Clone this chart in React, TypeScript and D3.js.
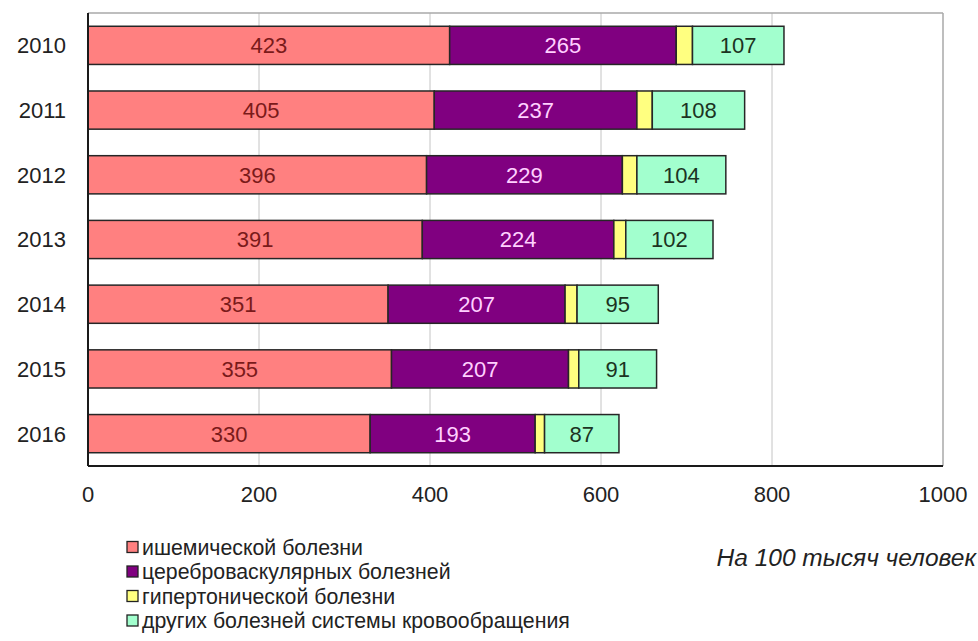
import React from "react";
import * as d3 from "d3";

// Death rates from circulatory diseases, per 100 000 people
const years = ["2010", "2011", "2012", "2013", "2014", "2015", "2016"];
const ischemic = [423, 405, 396, 391, 351, 355, 330];
const cerebrovascular = [265, 237, 229, 224, 207, 207, 193];
const hypertensive = [19, 18, 17, 14, 14, 12, 11];
const otherCirculatory = [107, 108, 104, 102, 95, 91, 87];

const seriesNames = [
  "ишемической болезни",
  "цереброваскулярных болезней",
  "гипертонической болезни",
  "других болезней  системы кровообращения",
];
const seriesColors = ["#FF8080", "#800080", "#FFFF80", "#A2FFCE"];
const labelColors = ["#7A1A1A", "#FFD0FF", null, "#1C3322"];
const xTicks = [0, 200, 400, 600, 800, 1000];
const unitNote = "На 100 тысяч человек";

const W = 978;
const H = 641;
const margin = { left: 88, right: 35, top: 13, bottom: 175 };
const FONT = "'Liberation Sans', Arial, sans-serif";

export default function App() {
  const keys = ["ischemic", "cerebro", "hyper", "other"];
  const rows = years.map((y, i) => ({
    year: y,
    ischemic: ischemic[i],
    cerebro: cerebrovascular[i],
    hyper: hypertensive[i],
    other: otherCirculatory[i],
  }));
  const stacked = d3.stack<any>().keys(keys)(rows);

  const x = d3
    .scaleLinear()
    .domain([0, 1000])
    .range([margin.left, W - margin.right]);
  const y = d3
    .scaleBand()
    .domain(years)
    .range([margin.top, H - margin.bottom])
    .paddingInner(0.41)
    .paddingOuter(0.205);

  const plotTop = margin.top;
  const plotBottom = H - margin.bottom;

  return (
    <div style={{ position: "fixed", left: 0, top: 0, width: W, height: H, overflow: "hidden" }}>
      <svg width={W} height={H} style={{ display: "block", background: "#fff" }}>
        {/* gridlines */}
        {xTicks.slice(1, -1).map((t) => (
          <line
            key={t}
            x1={x(t)}
            x2={x(t)}
            y1={plotTop}
            y2={plotBottom}
            stroke="#C4C4C4"
            strokeWidth={1}
          />
        ))}
        {/* plot frame: grey top/right, black axes */}
        <line x1={x(0)} x2={x(1000)} y1={plotTop} y2={plotTop} stroke="#A8A8A8" strokeWidth={1.5} />
        <line x1={x(1000)} x2={x(1000)} y1={plotTop} y2={plotBottom} stroke="#A8A8A8" strokeWidth={1.5} />

        {/* bars */}
        {stacked.map((s, si) =>
          s.map((d, i) => {
            const x0 = x(d[0]);
            const x1 = x(d[1]);
            const yy = y(years[i])!;
            const bh = y.bandwidth();
            const val = d[1] - d[0];
            return (
              <g key={`${si}-${i}`}>
                <rect
                  x={x0}
                  y={yy}
                  width={x1 - x0}
                  height={bh}
                  fill={seriesColors[si]}
                  stroke="#262626"
                  strokeWidth={1.5}
                />
                {labelColors[si] && (
                  <text
                    x={(x0 + x1) / 2}
                    y={yy + bh / 2}
                    dy="0.36em"
                    textAnchor="middle"
                    fontFamily={FONT}
                    fontSize={22}
                    fill={labelColors[si]!}
                  >
                    {val}
                  </text>
                )}
              </g>
            );
          })
        )}

        <line x1={x(0)} x2={x(0)} y1={plotTop} y2={plotBottom} stroke="#1A1A1A" strokeWidth={2} />
        <line x1={x(0)} x2={x(1000)} y1={plotBottom} y2={plotBottom} stroke="#1A1A1A" strokeWidth={2} />

        {/* category labels */}
        {years.map((yr) => (
          <text
            key={yr}
            x={66}
            y={y(yr)! + y.bandwidth() / 2}
            dy="0.36em"
            textAnchor="end"
            fontFamily={FONT}
            fontSize={22}
            fill="#222"
          >
            {yr}
          </text>
        ))}

        {/* value axis labels */}
        {xTicks.map((t) => (
          <text
            key={t}
            x={x(t)}
            y={plotBottom + 28}
            dy="0.36em"
            textAnchor="middle"
            fontFamily={FONT}
            fontSize={22}
            fill="#222"
          >
            {t}
          </text>
        ))}

        {/* legend */}
        {seriesNames.map((name, i) => {
          const cy = 547 + i * 24.5;
          return (
            <g key={name}>
              <rect
                x={127}
                y={cy - 5.5}
                width={11}
                height={11}
                fill={seriesColors[i]}
                stroke="#222"
                strokeWidth={1.3}
              />
              <text
                x={142}
                y={cy}
                dy="0.36em"
                fontFamily={FONT}
                fontSize={21.3}
                fill="#222"
              >
                {name}
              </text>
            </g>
          );
        })}

        <text
          x={976}
          y={557}
          dy="0.36em"
          textAnchor="end"
          fontFamily={FONT}
          fontStyle="italic"
          fontSize={24.5}
          fill="#222"
        >
          {unitNote}
        </text>
      </svg>
    </div>
  );
}
